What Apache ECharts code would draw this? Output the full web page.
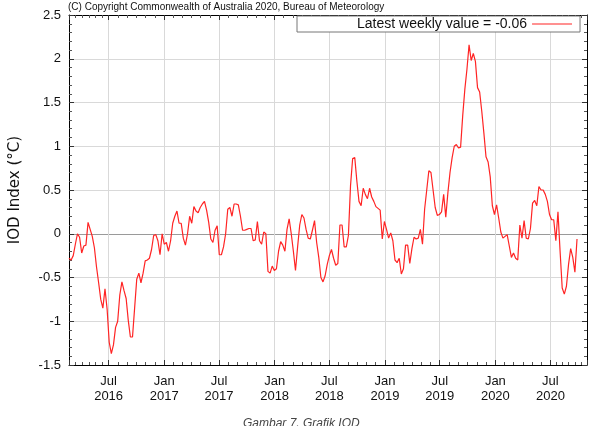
<!DOCTYPE html>
<html>
<head>
<meta charset="utf-8">
<script src="https://cdn.jsdelivr.net/npm/echarts@6/dist/echarts.min.js"></script>
<style>
  html, body { margin: 0; padding: 0; background: #fff; }
  #chart { width: 597px; height: 426px; }
</style>
</head>
<body>
<div id="chart"></div>
<script>
  // weekly IOD index values, one per week, first week ending 21 Feb 2016
  const firstWeek = [2016, 1, 21]
  const iodValues = [
    -0.28, -0.30, -0.25, -0.12, 0.00, -0.04, -0.22, -0.14, -0.13, 0.13,
    0.05, -0.03, -0.16, -0.38, -0.56, -0.75, -0.85, -0.63, -0.86, -1.24,
    -1.37, -1.27, -1.07, -1.00, -0.70, -0.55, -0.65, -0.74, -0.99, -1.18,
    -1.18, -0.85, -0.52, -0.45, -0.56, -0.45, -0.31, -0.30, -0.28, -0.18,
    -0.02, -0.01, -0.08, -0.24, 0.00, -0.12, -0.10, -0.20, -0.08, 0.12,
    0.20, 0.26, 0.12, 0.12, -0.05, -0.13, 0.00, 0.20, 0.12, 0.31,
    0.26, 0.24, 0.30, 0.34, 0.37, 0.27, 0.13, -0.06, -0.10, 0.04,
    0.09, -0.24, -0.24, -0.15, 0.00, 0.28, 0.30, 0.20, 0.34, 0.34,
    0.33, 0.20, 0.04, 0.04, 0.05, 0.06, 0.06, -0.08, -0.07, 0.14,
    -0.08, -0.12, 0.02, 0.00, -0.43, -0.45, -0.37, -0.42, -0.40, -0.20,
    -0.09, -0.13, -0.20, 0.05, 0.17, 0.00, -0.20, -0.42, -0.15, 0.10,
    0.22, 0.18, 0.05, -0.05, -0.06, 0.04, 0.15, -0.10, -0.27, -0.50,
    -0.55, -0.48, -0.35, -0.25, -0.18, -0.28, -0.36, -0.34, 0.10, 0.10,
    -0.15, -0.15, -0.02, 0.55, 0.86, 0.87, 0.60, 0.37, 0.32, 0.52,
    0.45, 0.40, 0.52, 0.42, 0.37, 0.31, 0.29, 0.27, -0.06, 0.14,
    0.05, -0.05, 0.01, -0.08, -0.30, -0.33, -0.28, -0.46, -0.40, -0.13,
    -0.13, -0.34, -0.17, -0.04, -0.06, -0.05, 0.05, -0.12, 0.28, 0.50,
    0.72, 0.70, 0.50, 0.30, 0.21, 0.22, 0.25, 0.45, 0.19, 0.47,
    0.70, 0.87, 1.00, 1.02, 0.98, 0.99, 1.35, 1.65, 1.88, 2.16,
    1.98, 2.06, 1.97, 1.67, 1.62, 1.40, 1.15, 0.88, 0.82, 0.65,
    0.32, 0.22, 0.33, 0.18, 0.02, -0.05, -0.03, -0.01, -0.14, -0.27,
    -0.22, -0.28, -0.30, 0.10, -0.05, 0.15, -0.05, -0.06, 0.06, 0.35,
    0.38, 0.32, 0.54, 0.50, 0.50, 0.45, 0.37, 0.22, 0.16, 0.16,
    -0.08, 0.25, -0.20, -0.62, -0.69, -0.60, -0.35, -0.17, -0.27, -0.44, -0.06
  ]
  const xRange = [new Date(2016, 1, 21), new Date(2020, 9, 30)]
  const yRange = [-1.5, 2.5]

  const weeks = iodValues.map((v, i) => new Date(firstWeek[0], firstWeek[1], firstWeek[2] + 7 * i))
  const latest = iodValues[iodValues.length - 1]

  const font = 'Liberation Sans, Arial, sans-serif'
  const gridColor = '#d9d9d9'
  const lineColor = '#ff2424'

  const chart = echarts.init(document.getElementById('chart'))
  const option = {
    animation: false,
    backgroundColor: '#fff',
    grid: { left: 63, right: 10, top: 15, bottom: 61 },
    legend: {
      left: 297,
      top: 16,
      padding: [1, 8, 1, 60],
      align: 'right',
      icon: 'rect',
      itemWidth: 40,
      itemHeight: 1,
      itemStyle: { color: lineColor },
      borderColor: '#777',
      borderWidth: 1,
      borderRadius: 0,
      backgroundColor: '#fff',
      selectedMode: false,
      textStyle: { fontSize: 14, fontFamily: font, color: '#111' },
    },
    graphic: [
      {
        type: 'text',
        left: 68,
        top: 2,
        style: {
          text: '(C) Copyright Commonwealth of Australia 2020, Bureau of Meteorology',
          font: '10px ' + font,
          fill: '#111',
        },
      },
      {
        type: 'text',
        left: 243,
        top: 418,
        style: {
          text: 'Gambar 7. Grafik IOD',
          font: 'italic 12px ' + font,
          fill: '#444',
        },
      },
    ],
    xAxis: [
      {
        type: 'time',
        position: 'bottom',
        min: xRange[0],
        max: xRange[1],
        splitNumber: 9,
        axisLine: { show: true, onZero: false, lineStyle: { color: '#000', width: 1 } },
        axisTick: { show: true, inside: true, length: 5, lineStyle: { color: '#333' } },
        minorTick: { show: true, splitNumber: 6, length: 3, lineStyle: { color: '#555' } },
        splitLine: { show: true, lineStyle: { color: gridColor, width: 1 } },
        axisLabel: {
          formatter: '{MMM}\n{yyyy}',
          color: '#111',
          fontSize: 13,
          fontFamily: font,
          lineHeight: 15,
          margin: 9,
          hideOverlap: false,
        },
      },
      {
        type: 'time',
        position: 'top',
        min: xRange[0],
        max: xRange[1],
        splitNumber: 9,
        axisLine: { show: true, onZero: false, lineStyle: { color: '#000', width: 1 } },
        axisTick: { show: true, inside: true, length: 5, lineStyle: { color: '#333' } },
        minorTick: { show: true, splitNumber: 6, length: 3, lineStyle: { color: '#555' } },
        splitLine: { show: false },
        axisLabel: { show: false },
      },
    ],
    yAxis: [
      {
        type: 'value',
        min: yRange[0],
        max: yRange[1],
        interval: 0.5,
        name: 'IOD Index (°C)',
        nameLocation: 'middle',
        nameGap: 46,
        nameTextStyle: { fontSize: 15, fontFamily: 'DejaVu Sans, sans-serif', color: '#111' },
        axisLine: { show: true, onZero: false, lineStyle: { color: '#000', width: 1 } },
        axisTick: { show: true, inside: true, length: 5, lineStyle: { color: '#333' } },
        minorTick: { show: true, splitNumber: 5, length: 3, lineStyle: { color: '#555' } },
        splitLine: {
          show: true,
          lineStyle: {
            color: [gridColor, gridColor, gridColor, '#9a9a9a', gridColor, gridColor, gridColor, gridColor, gridColor],
            width: 1,
          },
        },
        axisLabel: { color: '#111', fontSize: 13, fontFamily: font, margin: 8 },
      },
      {
        type: 'value',
        position: 'right',
        min: yRange[0],
        max: yRange[1],
        interval: 0.5,
        axisLine: { show: true, onZero: false, lineStyle: { color: '#000', width: 1 } },
        axisTick: { show: true, inside: true, length: 5, lineStyle: { color: '#333' } },
        minorTick: { show: true, splitNumber: 5, length: 3, lineStyle: { color: '#555' } },
        splitLine: { show: false },
        axisLabel: { show: false },
      },
    ],
    series: [
      {
        name: 'Latest weekly value = ' + latest.toFixed(2),
        type: 'line',
        symbol: 'none',
        z: 5,
        lineStyle: { color: lineColor, width: 1.2 },
        itemStyle: { color: lineColor },
        data: weeks.map((d, i) => [d, iodValues[i]]),
      },
    ],
  }
  chart.setOption(option)
</script>
</body>
</html>
